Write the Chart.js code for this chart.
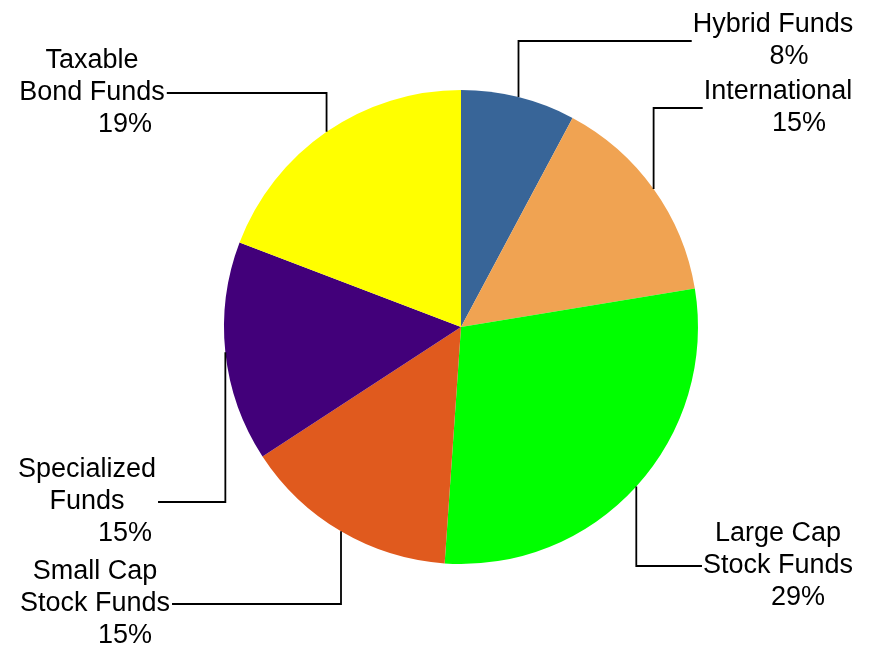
<!DOCTYPE html>
<html>
<head>
<meta charset="utf-8">
<script src="https://cdn.jsdelivr.net/npm/chart.js@4/dist/chart.umd.min.js"></script>
<style>
  html, body { margin: 0; padding: 0; background: #fff; }
  #wrap { width: 873px; height: 648px; }
</style>
</head>
<body>
<div id="wrap"><canvas id="pie" width="873" height="648"></canvas></div>
<script>
/* ─── data ─── */
const categories = ['Hybrid Funds', 'International', 'Large Cap Stock Funds', 'Small Cap Stock Funds', 'Specialized Funds', 'Taxable Bond Funds'];
const labelLines = [['Hybrid Funds'], ['International'], ['Large Cap', 'Stock Funds'], ['Small Cap', 'Stock Funds'], ['Specialized', 'Funds'], ['Taxable', 'Bond Funds']];
const shares = [7.8, 14.6, 28.7, 14.7, 15.0, 19.2];
const colors = ['#386598', '#F0A352', '#00FF00', '#E05A1E', '#42007A', '#FFFF00'];

/* ─── label layout: block centre, side of the leader line, % line shift ─── */
const labelPos = [
    { cx: 773, cy: 41,  side: 'right', pct: 16 },
    { cx: 778, cy: 108, side: 'right', pct: 21 },
    { cx: 778, cy: 566, side: 'right', pct: 20 },
    { cx: 95,  cy: 604, side: 'left',  pct: 30 },
    { cx: 87,  cy: 502, side: 'left',  pct: 38 },
    { cx: 92,  cy: 93,  side: 'left',  pct: 33 },
];

const FONT = '27px "Liberation Sans", Arial, sans-serif';
const LINE_H = 32;

/* leader lines + labels */
const leaderLabels = {
    id: 'leaderLabels',
    afterDatasetsDraw(chart) {
        const ctx = chart.ctx;
        const meta = chart.getDatasetMeta(0);
        const total = shares.reduce((a, b) => a + b, 0);
        ctx.save();
        ctx.font = FONT;
        ctx.fillStyle = '#000';
        ctx.strokeStyle = '#000';
        ctx.lineWidth = 1.8;
        ctx.textAlign = 'center';
        ctx.textBaseline = 'middle';
        meta.data.forEach((arc, i) => {
            const p = labelPos[i];
            const lines = labelLines[i];
            const pctTxt = Math.round(shares[i] / total * 100) + '%';
            const maxW = Math.max(...lines.map(l => ctx.measureText(l).width), ctx.measureText(pctTxt).width);
            const mid = (arc.startAngle + arc.endAngle) / 2;
            const sx = arc.x + Math.cos(mid) * arc.outerRadius;
            const sy = arc.y + Math.sin(mid) * arc.outerRadius;
            const ex = p.side === 'right' ? p.cx - maxW / 2 - 1 : p.cx + maxW / 2 + 2;

            ctx.beginPath();
            ctx.moveTo(sx, sy);
            ctx.lineTo(sx, p.cy);
            ctx.lineTo(ex, p.cy);
            ctx.stroke();

            const all = lines.concat([pctTxt]);
            const n = all.length;
            all.forEach((t, k) => {
                const y = p.cy + (k - (n - 1) / 2) * LINE_H;
                const x = k === n - 1 ? p.cx + p.pct : p.cx;
                ctx.fillText(t, x, y);
            });
        });
        ctx.restore();
    },
};

new Chart(document.getElementById('pie'), {
    type: 'pie',
    data: {
        labels: categories,
        datasets: [{
            data: shares,
            backgroundColor: colors,
            borderWidth: 0,
            hoverOffset: 0,
        }],
    },
    options: {
        responsive: false,
        animation: false,
        layout: { padding: { top: 90, bottom: 84, left: 224, right: 175 } },
        plugins: {
            legend: { display: false },
            tooltip: { enabled: false },
        },
    },
    plugins: [leaderLabels],
});
</script>
</body>
</html>
